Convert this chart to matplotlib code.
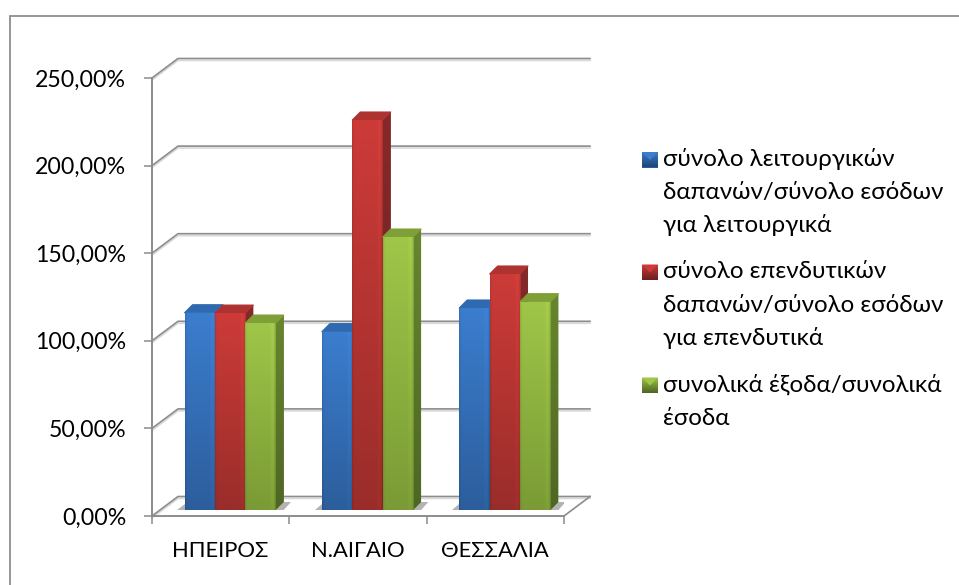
#!/usr/bin/env python3
"""Excel style 3D column chart, redrawn with plain matplotlib axes."""
import numpy as np
import matplotlib
matplotlib.use("Agg")
import matplotlib.pyplot as plt
from matplotlib.patches import Polygon
from matplotlib.transforms import ScaledTranslation

plt.rcParams["font.family"] = ["Lato", "Noto Sans", "DejaVu Sans"]

W, H = 959, 585

CATEGORIES = ["ΗΠΕΙΡΟΣ", "Ν.ΑΙΓΑΙΟ", "ΘΕΣΣΑΛΙΑ"]
LEITOURGIKA = [112.6, 101.8, 115.3]
EPENDYTIKA = [112.4, 222.6, 134.7]
SYNOLIKA = [106.7, 155.8, 118.9]
Y_TICKS = [0, 50, 100, 150, 200, 250]
Y_LABELS = ["0,00%", "50,00%", "100,00%", "150,00%", "200,00%", "250,00%"]
LEGEND_LABELS = [
    "σύνολο λειτουργικών\nδαπανών/σύνολο εσόδων\nγια λειτουργικά",
    "σύνολο επενδυτικών\nδαπανών/σύνολο εσόδων\nγια επενδυτικά",
    "συνολικά έξοδα/συνολικά\nέσοδα",
]

# front top, front bottom, side top, side bottom, roof
COLORS = [
    ("#3B7DCE", "#2C5E9C", "#28578F", "#1F4675", "#2F69B0"),
    ("#CC3B38", "#9A2D2A", "#85292A", "#6B2120", "#AE3230"),
    ("#9FC648", "#7A9B35", "#67862F", "#4E6624", "#7F9F37"),
]
GRID = "#8C8C8C"

# pixel sizes of the plot box, turned into data units below
PX_X = 412.0 / 3
PX_Y = 438.0 / 250
WALL_DX, WALL_DY = 26 / PX_X, 19.5 / PX_Y
BAR_DX, BAR_DY = 8 / PX_X, 8 / PX_Y
BAR_W = 30.4 / PX_X
BAR_SHIFT = 9.5 / PX_X
BAR_BASE = 6 / PX_Y


def grad(ax, patch, c_top, c_bot, extent, bevel=False):
    """Vertical gradient clipped to a patch."""
    t = np.linspace(0, 1, 64)[:, None, None]
    top = np.array(matplotlib.colors.to_rgb(c_top))[None, None, :]
    bot = np.array(matplotlib.colors.to_rgb(c_bot))[None, None, :]
    img = np.repeat(top * (1 - t) + bot * t, 32, axis=1)
    if bevel:
        # dark rim and soft highlight next to it, as in the office bevel
        u = np.linspace(0, 1, 32)
        rim = 1 - 0.10 * np.exp(-u / 0.03) - 0.14 * np.exp(-(1 - u) / 0.03)
        rim = rim + 0.05 * np.exp(-((u - 0.9) / 0.06) ** 2)
        img = np.clip(img * rim[None, :, None], 0, 1)
    ax.add_patch(patch)
    im = ax.imshow(img, extent=extent, aspect="auto", origin="upper",
                   interpolation="bilinear", zorder=patch.get_zorder(), clip_on=True)
    im.set_clip_path(patch)


def draw_bar(ax, x, val, cols, z, first):
    x1 = x + BAR_W
    top = BAR_BASE + val
    # shadow on the floor
    ax.add_patch(Polygon([(x1, BAR_BASE), (x1 + BAR_DX, BAR_BASE + BAR_DY),
                          (x1 + BAR_DX * 1.9, BAR_BASE + BAR_DY),
                          (x1 + BAR_DX, BAR_BASE)],
                         fc="#9A9A9A", ec="none", alpha=0.75, zorder=3))
    if first:
        ax.add_patch(Polygon([(x - BAR_DX * 0.9, BAR_BASE), (x, BAR_BASE),
                              (x, BAR_BASE + BAR_DY * 0.8)],
                             fc="#9A9A9A", ec="none", alpha=0.75, zorder=3))
    side = Polygon([(x1, BAR_BASE), (x1 + BAR_DX, BAR_BASE + BAR_DY),
                    (x1 + BAR_DX, top + BAR_DY), (x1, top)],
                   fc=cols[2], ec="none", zorder=z, clip_on=False)
    grad(ax, side, cols[2], cols[3], (x1, x1 + BAR_DX, BAR_BASE, top + BAR_DY))
    ax.add_patch(Polygon([(x, top), (x + BAR_DX, top + BAR_DY),
                          (x1 + BAR_DX, top + BAR_DY), (x1, top)],
                         fc=cols[4], ec=cols[4], lw=0.8, zorder=z, joinstyle="round"))
    bar = ax.bar(x, val, BAR_W, bottom=BAR_BASE, align="edge", color=cols[0],
                 linewidth=0, zorder=z)[0]
    bar.remove()
    grad(ax, bar, cols[0], cols[1], (x, x1, BAR_BASE, top), bevel=True)


fig = plt.figure(figsize=(W / 100, H / 100), dpi=100)

# background layer in pixels: chart frame and legend
bg = fig.add_axes([0, 0, 1, 1])
bg.set_xlim(0, W)
bg.set_ylim(H, 0)
bg.axis("off")
bg.plot([10, 10, W], [H, 16, 16], color="#8E8E8E", lw=1.3, solid_joinstyle="miter")

ax = fig.add_axes([152 / W, (H - 516) / H, 412 / W, 438 / H])
ax.patch.set_alpha(0)

# walls and floor
under = ax.transData + ScaledTranslation(0, -1.4 / 72, fig.dpi_scale_trans)
for y in Y_TICKS:
    wall_x = [0, WALL_DX, 3 + WALL_DX]
    wall_y = [y, y + WALL_DY, y + WALL_DY]
    ax.plot(wall_x, wall_y, color="#D8D8D8", lw=1.2, zorder=1, clip_on=False, transform=under)
    ax.plot(wall_x, wall_y, color=GRID, lw=1.2, zorder=2, clip_on=False)
ax.plot([3, 3 + WALL_DX], [0, WALL_DY], color=GRID, lw=1.2, zorder=2, clip_on=False)

series = [LEITOURGIKA, EPENDYTIKA, SYNOLIKA]
for i in range(len(CATEGORIES)):
    for j, vals in enumerate(series):
        x = i + 0.5 + BAR_SHIFT + (j - 1.5) * BAR_W
        draw_bar(ax, x, vals[i], COLORS[j], 4 + i + j * 0.1, j == 0)

ax.set_xlim(0, 3)
ax.set_ylim(0, 250)
ax.set_xticks([0, 1, 2, 3])
ax.set_xticklabels([])
ax.set_xticks([0.5, 1.5, 2.5], CATEGORIES, minor=True)
ax.set_yticks(Y_TICKS, Y_LABELS)
ax.tick_params(axis="x", which="major", length=5.5, width=1.1, color=GRID)
ax.tick_params(axis="x", which="minor", length=0, pad=18, labelsize=15.8)
ax.tick_params(axis="y", length=5.5, width=1.1, color=GRID, pad=13, labelsize=16.7)
for s in ("top", "right"):
    ax.spines[s].set_visible(False)
for s in ("left", "bottom"):
    ax.spines[s].set_color(GRID)
    ax.spines[s].set_linewidth(1.4)

# legend, drawn by hand: the swatch sits on the first text line
line_h = 33.2
for (label, cols, ytop) in zip(LEGEND_LABELS, COLORS, [152, 264.5, 377.5]):
    rect = Polygon([(642, ytop), (658, ytop), (658, ytop + 15.5), (642, ytop + 15.5)],
                   fc=cols[1], ec="none")
    grad(bg, rect, cols[0], cols[3], (642, 658, ytop + 15.5, ytop))
    bg.add_patch(Polygon([(642, ytop), (658, ytop), (650, ytop + 8)], fc=cols[0], ec="none"))
    for k, line in enumerate(label.split("\n")):
        bg.text(663, ytop + 14 + k * line_h, line, fontsize=17.4, color="black", va="baseline")
bg.set_xlim(0, W)
bg.set_ylim(H, 0)

fig.savefig("out.png", dpi=100)
